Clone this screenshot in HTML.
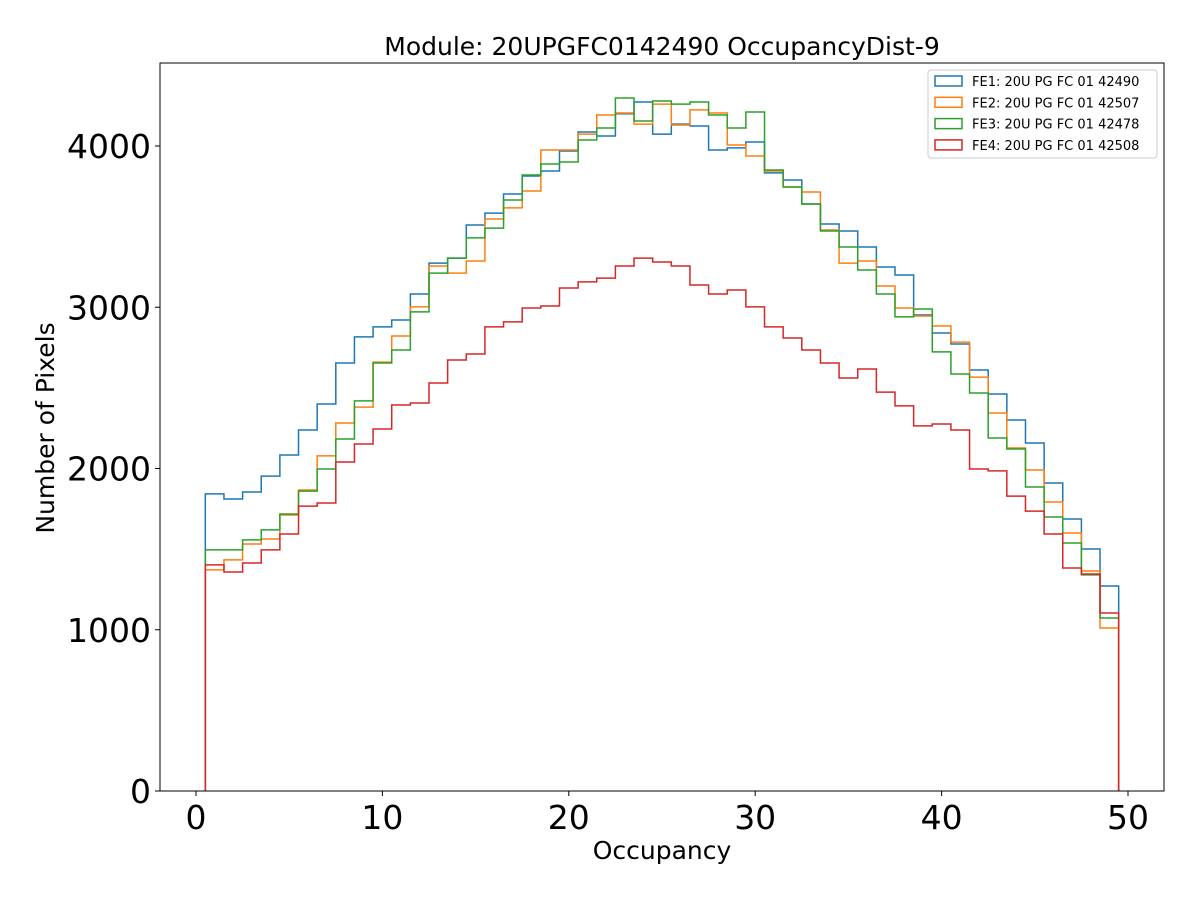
<!DOCTYPE html>
<html><head><meta charset="utf-8"><style>
body{margin:0;background:#fff}
svg{display:block;font-family:"DejaVu Sans","Liberation Sans",sans-serif}
</style></head><body>
<svg id="chart" width="1200" height="900">
<rect width="1200" height="900" fill="#fff"/>
<text x="662" y="55" font-size="25" text-anchor="middle">Module: 20UPGFC0142490 OccupancyDist-9</text>
<text x="662" y="859" font-size="25" text-anchor="middle">Occupancy</text>
<text x="54" y="428" font-size="25" text-anchor="middle" transform="rotate(-90 54 428)">Number of Pixels</text>
<g id="plot"></g>
</svg>
<script>
const binStart = 0.5;
const binWidth = 1;
const xTicks = [0,10,20,30,40,50];
const yTicks = [0,1000,2000,3000,4000];
const seriesNames = ["FE1: 20U PG FC 01 42490","FE2: 20U PG FC 01 42507","FE3: 20U PG FC 01 42478","FE4: 20U PG FC 01 42508"];
const fe1 = [1843,1811,1854,1953,2084,2239,2400,2654,2816,2878,2921,3082,3274,3305,3510,3584,3702,3814,3845,3969,4087,4062,4200,4273,4074,4136,4124,3975,3988,4025,3833,3789,3640,3516,3473,3374,3250,3200,2952,2840,2772,2611,2462,2301,2158,1910,1687,1501,1271];
const fe2 = [1371,1433,1532,1563,1712,1867,2078,2282,2381,2660,2822,3002,3256,3212,3287,3547,3616,3721,3975,3975,4074,4192,4205,4136,4260,4130,4224,4205,4006,3938,3845,3746,3715,3479,3274,3287,3132,2995,2946,2884,2784,2567,2344,2127,1991,1792,1600,1364,1011];
const fe3 = [1495,1495,1557,1619,1718,1860,1997,2183,2419,2654,2735,2971,3212,3305,3430,3491,3665,3820,3888,3901,4037,4112,4298,4155,4279,4260,4273,4192,4112,4211,3851,3746,3640,3473,3374,3231,3082,2940,2989,2723,2586,2468,2189,2121,1885,1699,1538,1340,1073];
const fe4 = [1402,1358,1414,1495,1594,1767,1786,2040,2152,2245,2394,2406,2530,2673,2710,2878,2909,2995,3008,3119,3157,3181,3256,3305,3281,3256,3138,3082,3107,3002,2878,2809,2735,2654,2561,2617,2474,2388,2264,2276,2239,1997,1985,1829,1736,1594,1383,1346,1104];
const colors = ["#1f77b4","#ff7f0e","#2ca02c","#d62728"];
const L=160,R=1164,T=63,B=791;
const X0=196,XS=(1128-196)/50;
const YS=(791-146)/4000;
const xs=v=>X0+v*XS, ys=v=>B-v*YS;
const NS="http://www.w3.org/2000/svg";
const g=document.getElementById('plot');
function mk(t,a){const e=document.createElementNS(NS,t);for(const k in a)e.setAttribute(k,a[k]);return e;}
const clip=mk('clipPath',{id:'cp'});clip.appendChild(mk('rect',{x:L,y:T,width:R-L,height:B-T}));g.appendChild(clip);
[fe1,fe2,fe3,fe4].forEach((s,i)=>{
  let d=`M${xs(binStart)},${ys(0)}`;
  s.forEach((v,j)=>{const x0=xs(binStart+j*binWidth),x1=xs(binStart+(j+1)*binWidth);d+=` L${x0},${ys(v)} L${x1},${ys(v)}`;});
  d+=` L${xs(binStart+s.length*binWidth)},${ys(0)}`;
  const p=mk('path',{d:d,fill:'none',stroke:colors[i],'stroke-width':1.5,'clip-path':'url(#cp)'});
  
  
  g.appendChild(p);
});
const frame=mk('rect',{x:L,y:T,width:R-L,height:B-T,fill:'none',stroke:'#000','stroke-width':1});


g.appendChild(frame);
xTicks.forEach(t=>{
  const x=xs(t);
  g.appendChild(mk('line',{x1:x,x2:x,y1:B,y2:B+5,stroke:'#000'}));
  const tx=mk('text',{x:x,y:B+38,'font-size':33,'text-anchor':'middle'});tx.textContent=t;
  
  
  g.appendChild(tx);
});
yTicks.forEach(t=>{
  const y=ys(t);
  g.appendChild(mk('line',{x1:L-5,x2:L,y1:y,y2:y,stroke:'#000'}));
  const tx=mk('text',{x:L-9,y:y+12,'font-size':33,'text-anchor':'end'});tx.textContent=t;
  
  
  g.appendChild(tx);
});
const lg=mk('g',{});


lg.appendChild(mk('rect',{x:928,y:70,width:229,height:88,rx:3,fill:'#fff',stroke:'#ccc'}));
seriesNames.forEach((n,i)=>{
  const y=81+i*21.3;
  lg.appendChild(mk('rect',{x:935,y:y-5,width:27,height:10,fill:'none',stroke:colors[i],'stroke-width':1.5}));
  const tx=mk('text',{x:972,y:y+5,'font-size':13});tx.textContent=n;
  
  
  lg.appendChild(tx);
});
g.appendChild(lg);
</script>
</body></html>
